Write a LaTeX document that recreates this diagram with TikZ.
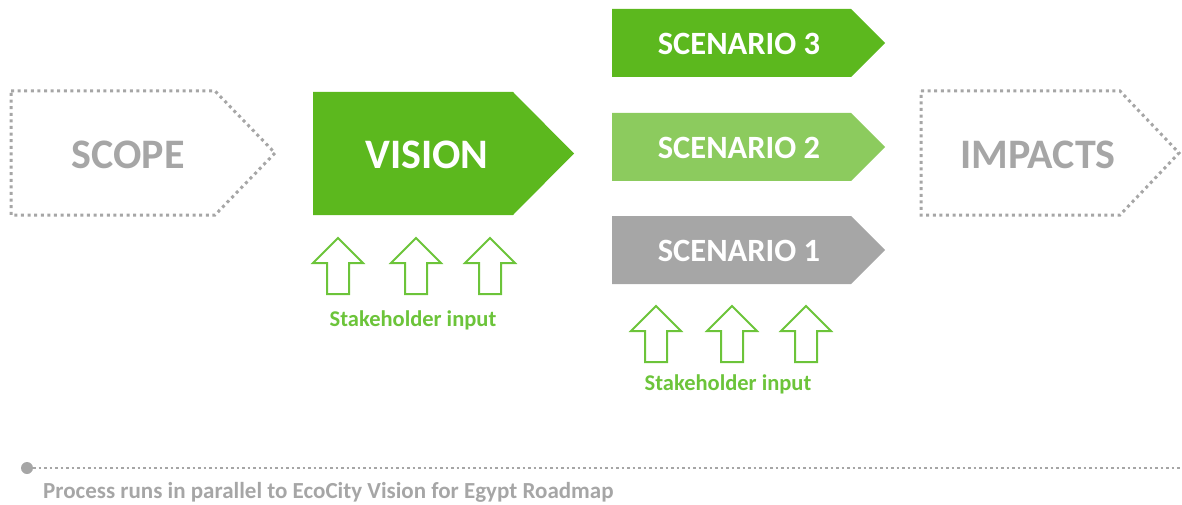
\documentclass[tikz,border=0pt]{standalone}
\usepackage{fontspec}
\setmainfont{Carlito}
\usetikzlibrary{positioning}
\definecolor{ecogreen}{RGB}{92,184,30}
\definecolor{ecolight}{RGB}{140,203,94}
\definecolor{ecogray}{RGB}{166,166,166}
\definecolor{inputgreen}{RGB}{108,196,58}
\tikzset{
  stagebox/.style={draw=ecogray, line width=3pt, dash pattern=on 3pt off 3.6pt},
  stagetext/.style={font=\fontsize{42}{42}\selectfont\bfseries},
  scentext/.style={font=\fontsize{32.5}{32.5}\selectfont\bfseries, text=white},
  inarrow/.style={draw=inputgreen, line width=2pt, fill=white},
  inputtext/.style={font=\fontsize{22.5}{22.5}\selectfont\bfseries, text=inputgreen}
}
\begin{document}
\begin{tikzpicture}[x=1pt, y=-1pt]
  \useasboundingbox (0,0) rectangle (1182,505);

  % open stages
  \draw[stagebox] (11,91) -- (215,91) -- (275,153) -- (215,215) -- (11,215) -- cycle;
  \node[stagetext, text=ecogray] (scope) at (128,155) {SCOPE};
  \draw[stagebox] (921,91) -- (1120,91) -- (1179,153) -- (1120,215) -- (921,215) -- cycle;
  \node[stagetext, text=ecogray] (impacts) at (1038,155) {IMPACTS};

  % vision
  \fill[ecogreen] (313,92) -- (513,92) -- (574,153.5) -- (513,215) -- (313,215) -- cycle;
  \node[stagetext, text=white] (vision) at (427,155) {VISION};

  % scenarios
  \fill[ecogreen] (612,9) -- (851,9) -- (885,43) -- (851,77) -- (612,77) -- cycle;
  \node[scentext] (scen3) at (739,44) {SCENARIO 3};
  \fill[ecolight] (612,113) -- (851,113) -- (885,147) -- (851,181) -- (612,181) -- cycle;
  \node[scentext] (scen2) at (739,148) {SCENARIO 2};
  \fill[ecogray] (612,216) -- (851,216) -- (885,250) -- (851,284) -- (612,284) -- cycle;
  \node[scentext] (scen1) at (739,251) {SCENARIO 1};

  % stakeholder input
  \foreach \x in {338,416,490} {
    \draw[inarrow] (\x-11,294) -- (\x-11,263) -- (\x-25,263) -- (\x,238)
      -- (\x+25,263) -- (\x+11,263) -- (\x+11,294) -- cycle;
  }
  \node[inputtext] (input1) at (413,320) {Stakeholder input};
  \foreach \x in {656,732,806} {
    \draw[inarrow] (\x-11,362) -- (\x-11,331) -- (\x-25,331) -- (\x,306)
      -- (\x+25,331) -- (\x+11,331) -- (\x+11,362) -- cycle;
  }
  \node[inputtext] (input2) at (728,384) {Stakeholder input};

  % timeline
  \node[circle, fill=ecogray, inner sep=0pt, minimum size=12pt] (tstart) at (27,468) {};
  \coordinate (tend) at (1182,468);
  \draw[ecogray, line width=2.5pt, dash pattern=on 2.5pt off 3pt] (tstart) -- (tend);
  \node[anchor=west, font=\fontsize{23}{23}\selectfont\bfseries, text=ecogray, inner sep=0pt] (tlabel) at (43,492) {Process runs in parallel to EcoCity Vision for Egypt Roadmap};
\end{tikzpicture}
\end{document}
